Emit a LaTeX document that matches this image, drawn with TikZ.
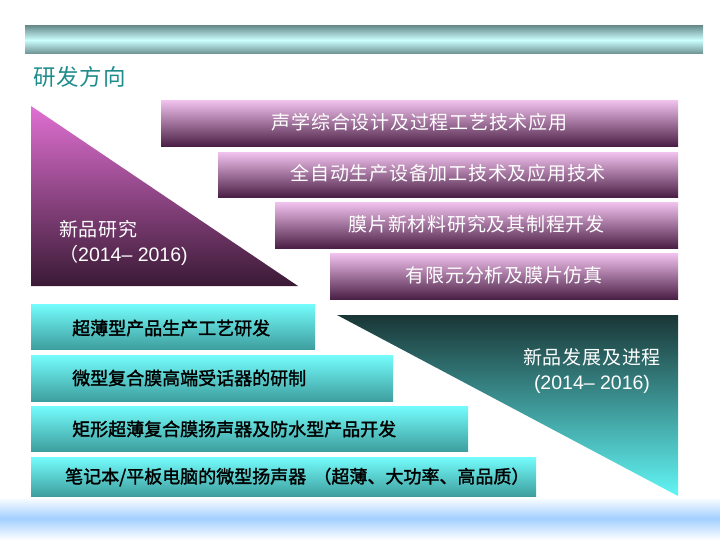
\documentclass[tikz,border=0pt]{standalone}
\usepackage{fontspec}
\setmainfont{Liberation Sans}
\newfontfamily\cjk{Noto Sans CJK SC}[LetterSpace=4]
\newfontfamily\cjkb{Noto Sans CJK SC}[FakeBold=1.6]
\definecolor{barteal}{HTML}{6B8F8F}
\definecolor{barlight}{HTML}{CCFFFF}
\definecolor{titleteal}{HTML}{1F8C8C}
\definecolor{magtop}{HTML}{F2C2EE}
\definecolor{magbot}{HTML}{4A1F45}
\definecolor{tripink}{HTML}{E070D2}
\definecolor{tridark}{HTML}{3A1A35}
\definecolor{cyantop}{HTML}{74FCFC}
\definecolor{cyanbot}{HTML}{3E9E9E}
\definecolor{tealdark}{HTML}{1A3636}
\definecolor{tealcyan}{HTML}{62F6F6}
\definecolor{bandblue}{HTML}{A3CFFF}
\tikzset{
  magbar/.style={rectangle, anchor=north west, inner sep=0pt, top color=magtop, bottom color=magbot, draw=none},
  cyanbar/.style={rectangle, anchor=north west, inner sep=0pt, top color=cyantop, bottom color=cyanbot, draw=none},
  magtext/.style={text=white, font=\cjk\fontsize{19}{20}\selectfont, inner sep=0pt},
  cyantext/.style={text=black, font=\cjkb\fontsize{18}{20}\selectfont, anchor=west, inner sep=0pt},
  tritext/.style={text=white, font=\fontsize{19.5}{24.5}\selectfont, inner sep=0pt}
}
\begin{document}
\begin{tikzpicture}[x=1pt,y=-1pt]
\useasboundingbox (0,0) rectangle (720,540);
% bottom band
\shade[top color=white, bottom color=white, middle color=bandblue] (0,497) rectangle (720,540);
% top bar
\shade[top color=barteal, bottom color=barteal, middle color=barlight] (25,26) rectangle (703,54);
\node[anchor=west, text=titleteal, font=\cjk\fontsize{22.5}{22}\selectfont, inner sep=0pt] (title) at (33,77) {研发方向};
% magenta triangle
\shade[top color=tripink, bottom color=tridark] (31,106) -- (31,286) -- (298,286) -- cycle;
\node[tritext, anchor=west, align=left] (tri1) at (59,243) {{\cjk\fontsize{19}{20}\selectfont 新品研究}\\{\cjk\fontsize{19}{20}\selectfont （}2014– 2016)};
% magenta bars
\node[magbar, minimum width=517pt, minimum height=46pt] (m1) at (161,100) {};
\node[magbar, minimum width=460pt, minimum height=45pt] (m2) at (218,152) {};
\node[magbar, minimum width=403pt, minimum height=46pt] (m3) at (275,202) {};
\node[magbar, minimum width=348pt, minimum height=46pt] (m4) at (330,253) {};
\node[magtext] (mt1) at ([yshift=1pt]m1.center) {声学综合设计及过程工艺技术应用};
\node[magtext] (mt2) at ([yshift=1pt]m2.center) {全自动生产设备加工技术及应用技术};
\node[magtext] (mt3) at ([yshift=1pt]m3.center) {膜片新材料研究及其制程开发};
\node[magtext] (mt4) at ([yshift=1pt]m4.center) {有限元分析及膜片仿真};
% teal triangle
\shade[top color=tealdark, bottom color=tealcyan] (337,315) -- (678,315) -- (678,496) -- cycle;
\node[tritext, align=center] (tri2) at (592,371) {{\cjk\fontsize{19}{20}\selectfont 新品发展及进程}\\(2014– 2016)};
% cyan bars
\node[cyanbar, minimum width=284pt, minimum height=45pt] (c1) at (31,304) {};
\node[cyanbar, minimum width=362pt, minimum height=46pt] (c2) at (31,355) {};
\node[cyanbar, minimum width=437pt, minimum height=45pt] (c3) at (31,406) {};
\node[cyanbar, minimum width=505pt, minimum height=39pt] (c4) at (31,457) {};
\node[cyantext] (ct1) at (72,328) {超薄型产品生产工艺研发};
\node[cyantext] (ct2) at (72,378) {微型复合膜高端受话器的研制};
\node[cyantext] (ct3) at (72,429) {矩形超薄复合膜扬声器及防水型产品开发};
\node[cyantext] (ct4) at (65,477) {笔记本/平板电脑的微型扬声器\hspace{0.4em}（超薄、大功率、高品质）};
\end{tikzpicture}
\end{document}
